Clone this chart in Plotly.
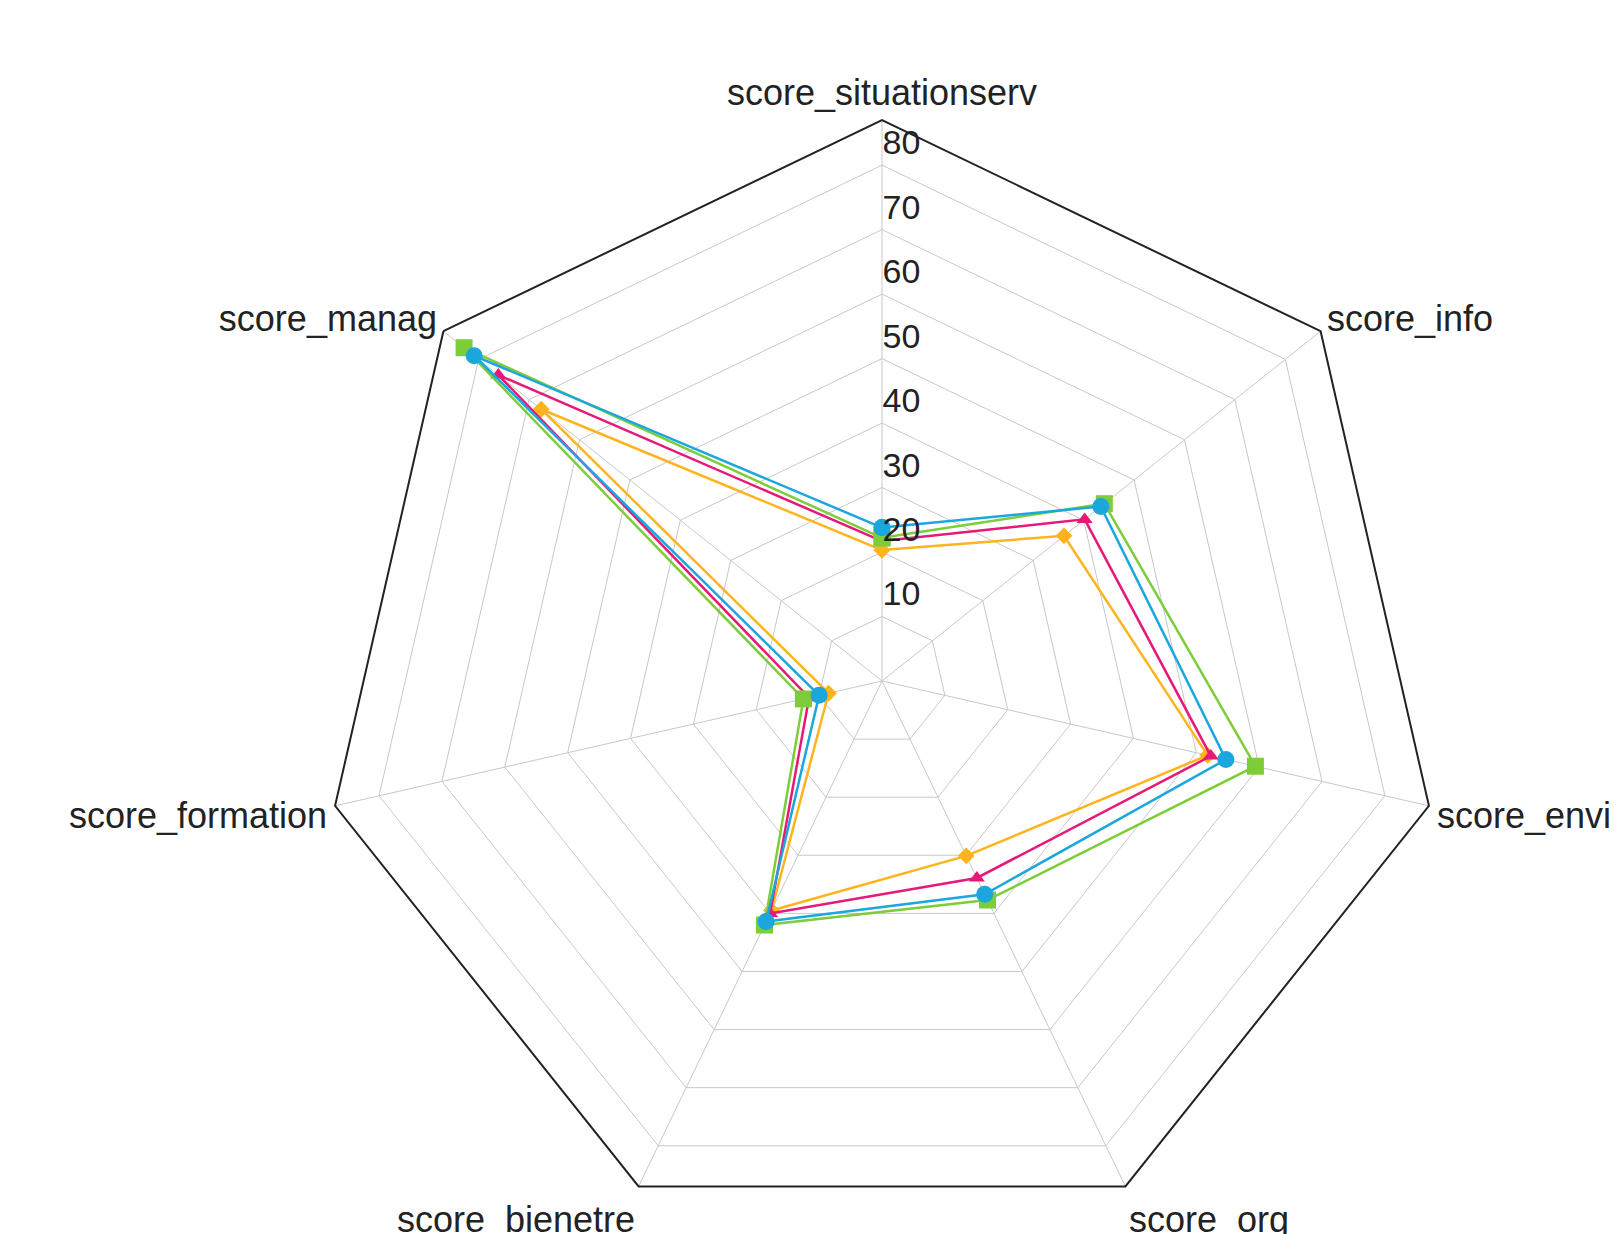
import plotly.graph_objects as go

categories = ["score_situationserv", "score_info", "score_envir", "score_org",
              "score_bienetre", "score_formation", "score_manag"]

series_names = ["Série 1", "Série 2", "Série 3", "Série 4"]
vals_orange = [20.3, 36.1, 51.8, 30.1, 39.5, 8.5, 67.6]
vals_pink = [21.7, 40.2, 52.3, 33.9, 40.0, 11.6, 76.1]
vals_green = [22.2, 44.1, 59.4, 37.7, 42.0, 12.5, 82.9]
vals_blue = [23.8, 43.4, 54.7, 36.7, 41.4, 10.0, 80.9]

tick_vals = [10, 20, 30, 40, 50, 60, 70, 80]
tick_text = [str(v) + "<br> " for v in tick_vals]
radial_max = 87

styles = [
    (vals_orange, "#FFB41E", "diamond", 13, series_names[3]),
    (vals_pink, "#E61978", "triangle-up", 14, series_names[2]),
    (vals_green, "#7DCD3A", "square", 17, series_names[0]),
    (vals_blue, "#1BA6DD", "circle", 17, series_names[1]),
]

fig = go.Figure()
for vals, color, symbol, size, name in styles:
    fig.add_trace(go.Scatterpolar(
        r=vals + vals[:1],
        theta=categories + categories[:1],
        mode="lines+markers",
        name=name,
        line=dict(color=color, width=2.5),
        marker=dict(color=color, symbol=symbol, size=size),
        showlegend=False,
    ))

fig.update_layout(
    width=1621,
    height=1234,
    margin=dict(l=174, r=47, t=112, b=0),
    paper_bgcolor="white",
    plot_bgcolor="white",
    font=dict(family="Liberation Sans, Arial, sans-serif", color="#222222"),
    polar=dict(
        bgcolor="white",
        gridshape="linear",
        radialaxis=dict(
            range=[0, radial_max],
            tickvals=tick_vals,
            ticktext=tick_text,
            angle=90,
            tickangle=90,
            side="clockwise",
            showline=False,
            ticks="",
            gridcolor="#c8c8c8",
            gridwidth=1,
            tickfont=dict(size=34, color="#222222"),
        ),
        angularaxis=dict(
            categoryorder="array",
            categoryarray=categories,
            direction="clockwise",
            rotation=90,
            showline=True,
            linecolor="#222222",
            linewidth=2,
            gridcolor="#c8c8c8",
            gridwidth=1,
            ticks="",
            tickfont=dict(size=36, color="#222222"),
        ),
    ),
)

fig.write_html("out.html")
